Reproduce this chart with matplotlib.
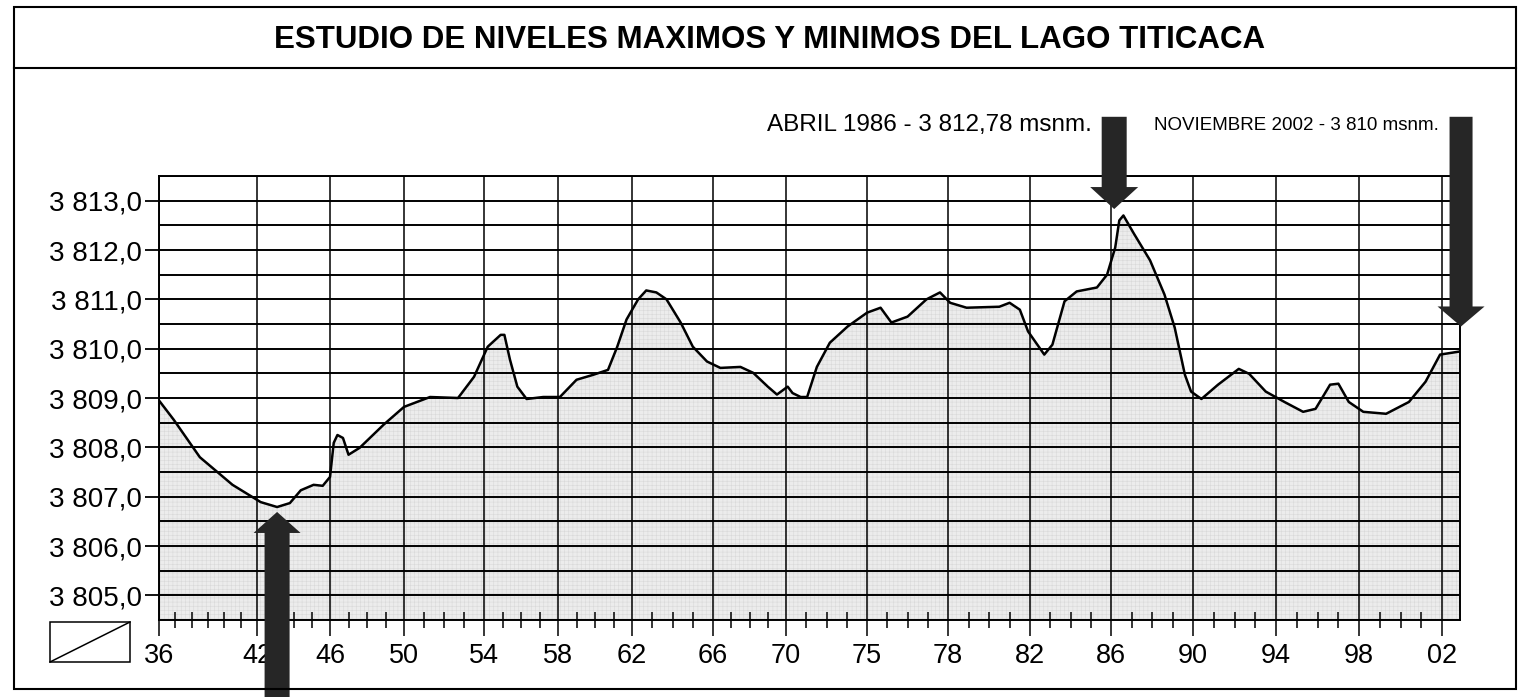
import matplotlib
matplotlib.use("Agg")
import matplotlib.pyplot as plt
import numpy as np
from matplotlib.patches import Rectangle
from matplotlib.lines import Line2D
from matplotlib.ticker import MultipleLocator

plt.rcParams['font.family'] = ['Liberation Sans', 'DejaVu Sans']
plt.rcParams['hatch.linewidth'] = 0.4

# --- Datos (anio, nivel msnm) ---
years = [1936.0, 1936.9, 1938.5, 1940.5, 1942.2, 1943.1, 1943.8, 1944.4, 1945.1, 1945.6,
         1946.0, 1946.2, 1946.4, 1946.7, 1947.0, 1947.6, 1948.9, 1950.0, 1951.3, 1952.7,
         1953.5, 1954.2, 1954.9, 1955.1, 1955.4, 1955.8, 1956.3, 1957.2, 1958.1, 1959.0,
         1959.9, 1960.7, 1961.2, 1961.7, 1962.3, 1962.7, 1963.2, 1963.7, 1964.4, 1965.0,
         1965.7, 1966.4, 1967.5, 1968.2, 1969.0, 1969.5, 1970.1, 1970.4, 1970.9, 1971.3,
         1971.9, 1972.7, 1973.8, 1975.0, 1975.5, 1975.9, 1976.5, 1977.2, 1977.7, 1978.1,
         1978.9, 1980.5, 1981.0, 1981.5, 1981.9, 1982.7, 1983.1, 1983.7, 1984.3, 1985.3,
         1985.8, 1986.2, 1986.4, 1986.6, 1987.1, 1987.9, 1988.6, 1989.1, 1989.6, 1989.9,
         1990.4, 1991.2, 1992.2, 1992.7, 1993.5, 1994.4, 1995.3, 1995.9, 1996.6, 1997.0,
         1997.5, 1998.2, 1999.3, 2000.4, 2001.2, 2001.9, 2002.8]
level = [3808.95, 3808.56, 3807.80, 3807.24, 3806.89, 3806.79, 3806.87, 3807.13, 3807.24, 3807.22,
         3807.40, 3808.09, 3808.25, 3808.19, 3807.85, 3807.99, 3808.46, 3808.82, 3809.02, 3809.00,
         3809.43, 3810.04, 3810.28, 3810.28, 3809.78, 3809.23, 3808.98, 3809.02, 3809.02, 3809.37,
         3809.47, 3809.57, 3810.04, 3810.59, 3811.00, 3811.18, 3811.14, 3811.00, 3810.53, 3810.04,
         3809.74, 3809.61, 3809.63, 3809.51, 3809.23, 3809.07, 3809.23, 3809.10, 3809.02, 3809.02,
         3809.63, 3810.12, 3810.45, 3810.73, 3810.83, 3810.53, 3810.65, 3811.00, 3811.14, 3810.93,
         3810.83, 3810.85, 3810.93, 3810.79, 3810.35, 3809.88, 3810.08, 3810.96, 3811.16, 3811.24,
         3811.50, 3812.05, 3812.60, 3812.70, 3812.34, 3811.79, 3811.10, 3810.43, 3809.47, 3809.13,
         3808.98, 3809.27, 3809.59, 3809.49, 3809.13, 3808.92, 3808.72, 3808.78, 3809.27, 3809.29,
         3808.92, 3808.72, 3808.68, 3808.92, 3809.33, 3809.88, 3809.94]

tick_years = [1936, 1942, 1946, 1950, 1954, 1958, 1962, 1966, 1970, 1975,
              1978, 1982, 1986, 1990, 1994, 1998, 2002]
tick_labels = ['36', '42', '46', '50', '54', '58', '62', '66', '70', '75',
               '78', '82', '86', '90', '94', '98', '02']
n_div = [6] + [4] * 15          # subdivisiones entre marcas
y_ticks = [3805, 3806, 3807, 3808, 3809, 3810, 3811, 3812, 3813]

# flechas: (anio, punta, cola)
arrow_min = (1943.1, 3806.69, 3802.6)
arrow_max = (1986.15, 3812.83, 3814.7)
arrow_2002 = (2002.9, 3810.45, 3814.7)

# --- Eje x impreso con espaciado irregular ---
axis_years = tick_years + [2003]
axis_pos = [159, 257, 330, 404, 484, 558, 632, 713, 786, 867, 948,
            1030, 1111, 1193, 1276, 1359, 1442, 1463]


def fwd(x):
    return np.interp(x, axis_years, axis_pos)


def inv(x):
    return np.interp(x, axis_pos, axis_years)


W, H = 1526, 697
fig = plt.figure(figsize=(W / 100, H / 100), dpi=100)
ax = fig.add_axes([159 / W, 1 - 620 / H, (1460 - 159) / W, (620 - 176) / H])
ax.set_xscale('function', functions=(fwd, inv))
ax.set_xlim(1936, 2002.85)
ax.set_ylim(3804.5, 3813.5)

ax.fill_between(years, level, 3804.5, facecolor='#ececec', hatch='++++',
                edgecolor='#d9d9d9', linewidth=0, zorder=1)
ax.plot(years, level, color='black', lw=1.8, zorder=3,
        solid_joinstyle='round', solid_capstyle='round')

# ticks
minor = []
for a, b, n in zip(tick_years[:-1], tick_years[1:], n_div):
    minor += list(np.linspace(a, b, n + 1)[1:-1])
ax.set_xticks(tick_years)
ax.set_xticklabels(tick_labels)
ax.set_xticks(minor, minor=True)
ax.set_yticks(y_ticks)
ax.set_yticklabels([f"{v // 1000} {v % 1000},0" for v in y_ticks])
ax.yaxis.set_minor_locator(MultipleLocator(0.5))

ax.set_axisbelow('line')
ax.grid(axis='x', which='major', color='black', lw=1.1)
ax.grid(axis='y', which='both', color='black', lw=1.4)

ax.tick_params(axis='x', which='major', direction='out', length=11.5, width=1.1,
               pad=5, labelsize=19.5)
ax.tick_params(axis='x', which='minor', direction='inout', length=11.5, width=1.1)
ax.tick_params(axis='y', which='major', direction='out', length=10, width=1.3,
               pad=2, labelsize=20)
ax.tick_params(axis='y', which='minor', length=0)
for s in ax.spines.values():
    s.set_linewidth(1.4)

# flechas
for (x, tip, tail), st in [
        (arrow_min, 'simple,head_length=2.1,head_width=4.7,tail_width=2.5'),
        (arrow_max, 'simple,head_length=2.2,head_width=4.8,tail_width=2.5'),
        (arrow_2002, 'simple,head_length=2.0,head_width=4.7,tail_width=2.3')]:
    ax.annotate('', xy=(x, tip), xytext=(x, tail), annotation_clip=False, zorder=6,
                arrowprops=dict(arrowstyle=st, fc='#262626', ec='none',
                                shrinkA=0, shrinkB=0, mutation_scale=7.2))

fig.text(1092 / W, 1 - 125 / H, 'ABRIL 1986 - 3 812,78 msnm.', ha='right',
         va='center', fontsize=17.5)
fig.text(1439 / W, 1 - 125 / H, 'NOVIEMBRE 2002 - 3 810 msnm.', ha='right',
         va='center', fontsize=13.5)

# marco, titulo y recuadro
fig.add_artist(Rectangle((14 / W, 1 - 689 / H), 1502 / W, 682 / H,
                         transform=fig.transFigure, fill=False, lw=1.5))
fig.add_artist(Line2D([14 / W, 1516 / W], [1 - 68 / H] * 2,
                      transform=fig.transFigure, color='black', lw=1.5))
fig.text(770 / W, 1 - 40 / H, 'ESTUDIO DE NIVELES MAXIMOS Y MINIMOS DEL LAGO TITICACA',
         ha='center', va='center', fontsize=22.5, fontweight='bold')
fig.add_artist(Rectangle((50 / W, 1 - 662 / H), 80 / W, 40 / H,
                         transform=fig.transFigure, fill=False, lw=1.1))
fig.add_artist(Line2D([50 / W, 130 / W], [1 - 662 / H, 1 - 622 / H],
                      transform=fig.transFigure, color='black', lw=1.1))

fig.savefig('out.png', dpi=100)
